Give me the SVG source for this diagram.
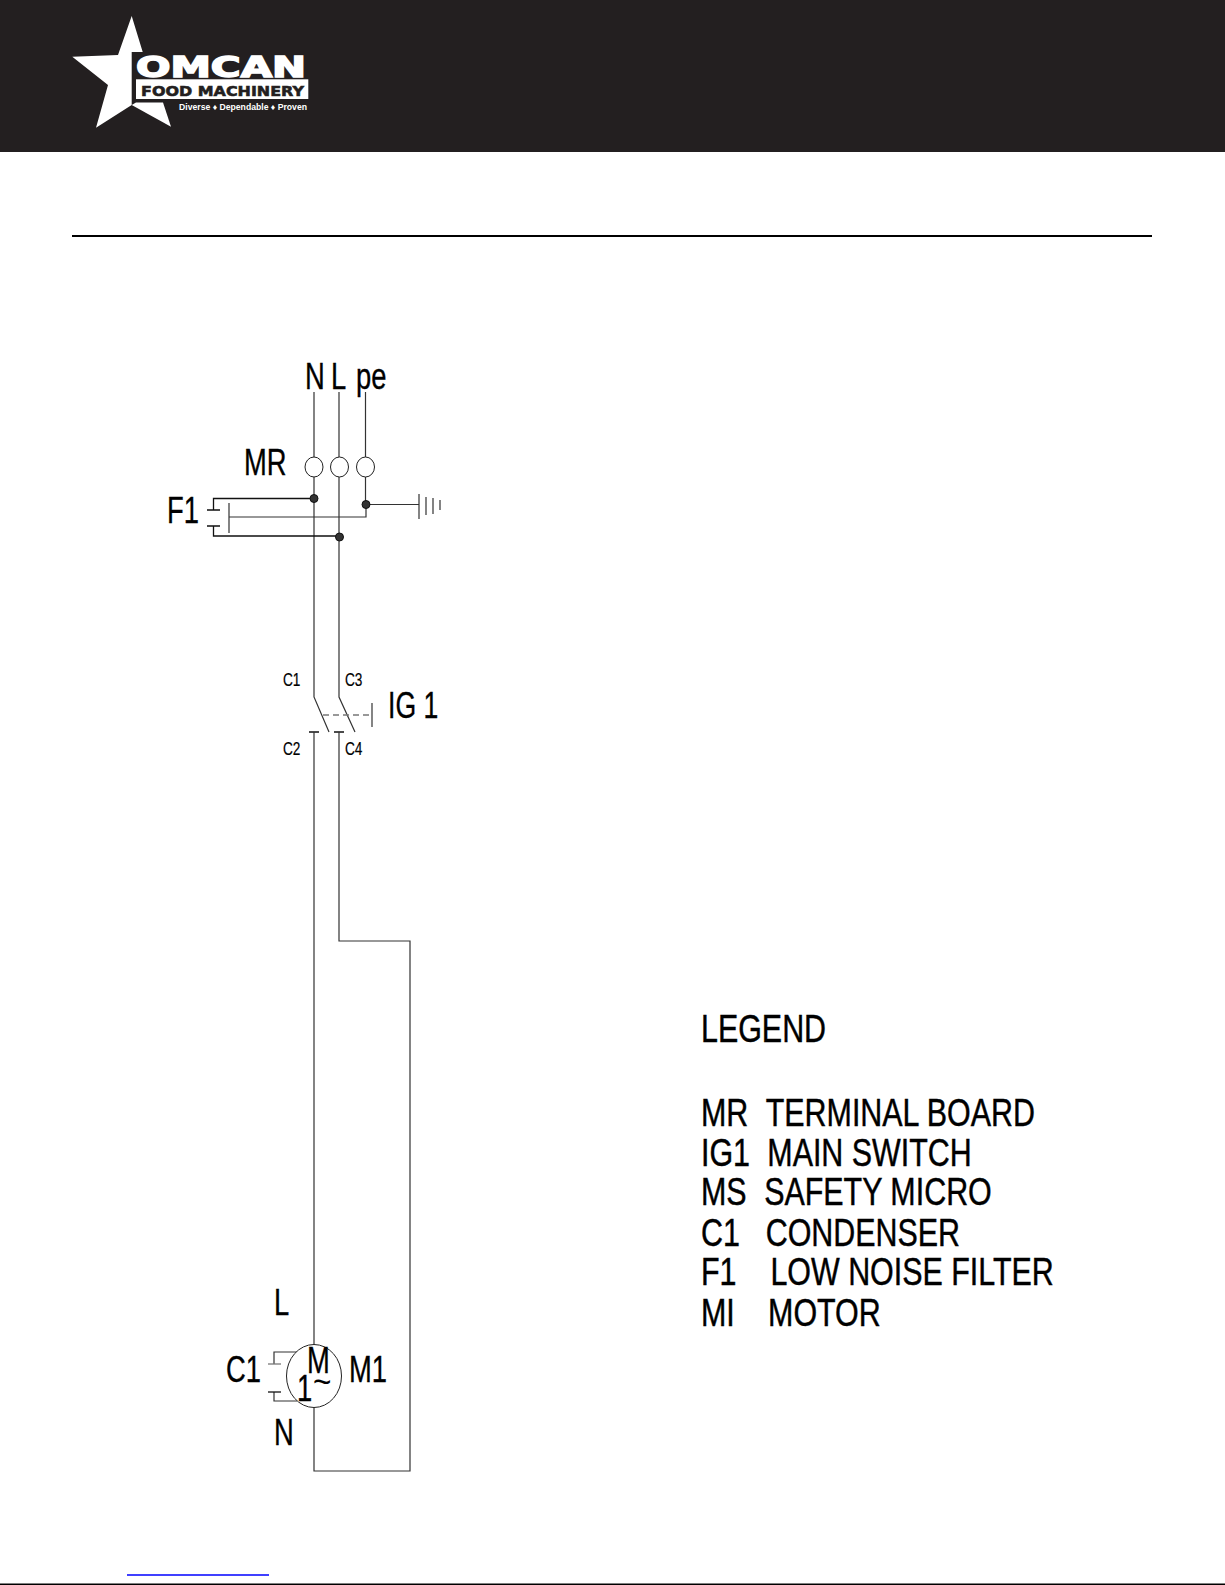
<svg xmlns="http://www.w3.org/2000/svg" width="1225" height="1585" viewBox="0 0 1225 1585">
<style>
text{font-family:"Liberation Sans",Arial,sans-serif;fill:#000}
.w{fill:none;stroke:#333;stroke-width:1.2}
.k{fill:none;stroke:#111;stroke-width:1.3}
.g{fill:none;stroke:#777;stroke-width:1.3}
.dot{fill:#333;stroke:#111;stroke-width:1}
.lg{font-size:39px;stroke:#000;stroke-width:.45}
.lb{font-size:37px;stroke:#000;stroke-width:.35}
.sm{font-size:17.5px;stroke:#000;stroke-width:.2}
.term{fill:#fff;stroke:#222;stroke-width:1}
</style>
<rect width="1225" height="1585" fill="#fff"/>
<g id="header">
<rect x="0" y="0" width="1225" height="152" fill="#231f20"/>
<polygon points="131.7,16 142.7,52 131.7,52 131.7,105 96,127.7 108,85 72.3,56.7 118,55" fill="#fff"/>
<polygon points="136,102.5 163,102.5 171,126.7 131.7,105" fill="#fff"/>
<text x="136" y="76.5" style="font-family:'DejaVu Sans',sans-serif;fill:#fff;font-weight:bold;font-size:28px;stroke:#fff;stroke-width:1.500" textLength="170" lengthAdjust="spacingAndGlyphs">OMCAN</text>
<rect x="136" y="79.3" width="172.3" height="19.7" fill="#fff"/>
<text x="141" y="96" style="font-family:'DejaVu Sans',sans-serif;fill:#231f20;font-weight:bold;font-size:14.7px;stroke:#231f20;stroke-width:.6" textLength="163" lengthAdjust="spacingAndGlyphs">FOOD MACHINERY</text>
<text x="179" y="109.5" style="fill:#fff;font-weight:bold;font-size:8.4px" textLength="128" lengthAdjust="spacingAndGlyphs">Diverse ♦ Dependable ♦ Proven</text>
</g>
<line id="rule" x1="72" y1="236" x2="1152" y2="236" stroke="#000" stroke-width="2"/>
<g id="connectors">
<path class="w" d="M314 392V457M339 392V457M365.5 392V457"/>
<path class="w" d="M314 477V697L329 732M339 477V697L355 732"/>
<path class="w" d="M365.5 477V505"/>
<path class="k" d="M314 498.5H213.5V510M207 510H220M207 526H220M213.500 526V536H339.5"/>
<path class="w" d="M229 503V533M229 517H366V505M366 504.500H419"/>
<path class="w" d="M419 494V519M426 497V515M433 498V514M440 500V510"/>
<path class="g" stroke-dasharray="6 4" d="M323 715H372"/>
<path class="w" d="M372 703V727"/>
<path class="k" d="M309 732H319M334 732H344"/>
<path class="w" d="M314 732V1345M339 732V941H410V1471H314V1407"/>
<path class="w" d="M297 1352H274V1364M274 1392V1401H297"/>
<path class="g" d="M268 1364H281"/>
<path class="k" d="M268 1392H281"/>
</g>
<g id="terminal-N"><ellipse class="term" cx="314" cy="467" rx="9" ry="10"/><circle class="dot" cx="314" cy="498.500" r="4"/></g>
<g id="terminal-L"><ellipse class="term" cx="339.500" cy="467" rx="9" ry="10"/><circle class="dot" cx="339.500" cy="537" r="4"/></g>
<g id="terminal-pe"><ellipse class="term" cx="365.500" cy="467" rx="9" ry="10"/><circle class="dot" cx="366" cy="504.500" r="4"/></g>
<g id="motor"><ellipse cx="314" cy="1376" rx="27.500" ry="31.500" fill="#fff" stroke="#222" stroke-width="1"/>
<text class="lb" transform="translate(307,1372.700) scale(.74,1)">M</text>
<text class="lb" transform="translate(297,1400.700) scale(.74,1)">1</text>
<text transform="translate(313,1394) scale(.9,1)" style="font-size:35px">~</text>
</g>
<g id="labels">
<text class="lb" transform="translate(305,388.500) scale(.74,1)">N</text>
<text class="lb" transform="translate(331,388.500) scale(.74,1)">L</text>
<text class="lb" transform="translate(356,388.500) scale(.74,1)">pe</text>
<text class="lb" transform="translate(244,474.500) scale(.74,1)">MR</text>
<text class="lb" transform="translate(167,523) scale(.74,1)">F1</text>
<text class="sm" transform="translate(283,685.700) scale(.78,1)">C1</text>
<text class="sm" transform="translate(345,685.700) scale(.78,1)">C3</text>
<text class="sm" transform="translate(283,755) scale(.78,1)">C2</text>
<text class="sm" transform="translate(345,755) scale(.78,1)">C4</text>
<text class="lb" transform="translate(388,718) scale(.72,1)">IG 1</text>
<text class="lb" transform="translate(274,1315) scale(.74,1)">L</text>
<text class="lb" transform="translate(226,1381.700) scale(.74,1)">C1</text>
<text class="lb" transform="translate(349,1381.700) scale(.74,1)">M1</text>
<text class="lb" transform="translate(274,1445) scale(.74,1)">N</text>
</g>
<g id="legend">
<text class="lg" transform="translate(701,1041.700) scale(.78,1)">LEGEND</text>
<text class="lg" transform="translate(701,1125.700) scale(.78,1)">MR <tspan x="83">TERMINAL BOARD</tspan></text>
<text class="lg" transform="translate(701,1165.700) scale(.78,1)">IG1 <tspan x="85">MAIN SWITCH</tspan></text>
<text class="lg" transform="translate(701,1205) scale(.78,1)">MS <tspan x="81">SAFETY MICRO</tspan></text>
<text class="lg" transform="translate(701,1245.700) scale(.78,1)">C1 <tspan x="83">CONDENSER</tspan></text>
<text class="lg" transform="translate(701,1285) scale(.78,1)">F1 <tspan x="89">LOW NOISE FILTER</tspan></text>
<text class="lg" transform="translate(701,1325.700) scale(.78,1)">MI <tspan x="86">MOTOR</tspan></text>
</g>
<g id="footer">
<line x1="127" y1="1575" x2="269" y2="1575" stroke="#0000ff" stroke-width="1.500"/>
<line x1="0" y1="1584.300" x2="1225" y2="1584.300" stroke="#000" stroke-width="1.500"/>
</g>
</svg>
